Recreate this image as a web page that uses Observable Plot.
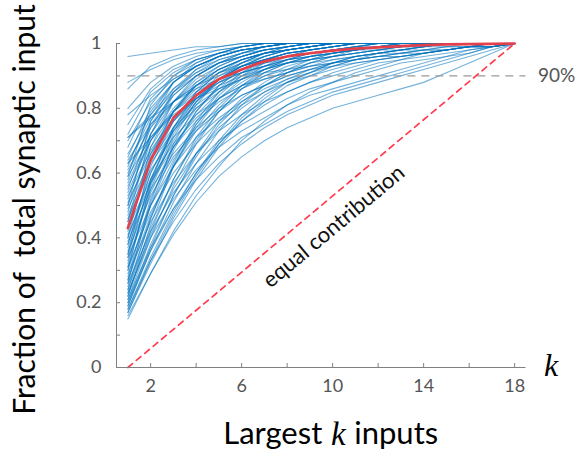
<!DOCTYPE html>
<html>
<head>
<meta charset="utf-8">
<script src="https://cdn.jsdelivr.net/npm/d3@7"></script>
<script src="https://cdn.jsdelivr.net/npm/@observablehq/plot@0.6"></script>
<style>
  html, body { margin: 0; padding: 0; background: #fff; }
  #chart svg { display: block; }
</style>
</head>
<body>
<div id="chart"></div>
<script>
// k = number of largest inputs
const kValues = [1,2,3,4,5,6,7,8,9,10,11,12,13,14,15,16,17,18];

// Individual neurons: cumulative fraction (%) of total synaptic input at k = 1..18
const highStartCurves = [
  [96,97,98,99,99,100,100,100,100,100,100,100,100,100,100,100,100,100],
  [88,92,95,97,98,99,100,100,100,100,100,100,100,100,100,100,100,100],
  [86,93,96,98,99,100,100,100,100,100,100,100,100,100,100,100,100,100],
  [80,88,93,96,98,99,100,100,100,100,100,100,100,100,100,100,100,100],
  [78,84,89,93,96,98,99,100,100,100,100,100,100,100,100,100,100,100],
  [75,86,92,95,97,98,99,100,100,100,100,100,100,100,100,100,100,100],
  [72,85,91,95,97,99,100,100,100,100,100,100,100,100,100,100,100,100],
  [70,82,89,93,96,98,99,100,100,100,100,100,100,100,100,100,100,100],
  [71,78,88,93,96,98,99,100,100,100,100,100,100,100,100,100,100,100],
  [68,83,90,94,97,99,100,100,100,100,100,100,100,100,100,100,100,100],
  [71,77,82,86,89,91,93,94,95,96,97,98,98,99,99,100,100,100],
  [66,78,86,91,94,96,98,99,100,100,100,100,100,100,100,100,100,100]
];
const midStartCurves = [
  [65,80,88,93,96,98,99,100,100,100,100,100,100,100,100,100,100,100],
  [63,77,85,90,94,96,98,99,100,100,100,100,100,100,100,100,100,100],
  [62,79,88,93,96,98,99,100,100,100,100,100,100,100,100,100,100,100],
  [60,75,84,90,94,96,98,99,100,100,100,100,100,100,100,100,100,100],
  [58,76,86,92,95,97,99,100,100,100,100,100,100,100,100,100,100,100],
  [57,72,82,88,92,95,97,98,99,100,100,100,100,100,100,100,100,100],
  [55,74,85,91,95,97,99,100,100,100,100,100,100,100,100,100,100,100],
  [54,70,80,87,92,95,97,98,99,100,100,100,100,100,100,100,100,100],
  [52,72,84,90,94,97,98,99,100,100,100,100,100,100,100,100,100,100],
  [50,68,79,86,91,94,96,98,99,100,100,100,100,100,100,100,100,100],
  [48,70,82,89,93,96,98,99,100,100,100,100,100,100,100,100,100,100],
  [59,81,90,95,97,99,100,100,100,100,100,100,100,100,100,100,100,100],
  [50,76,88,94,97,99,100,100,100,100,100,100,100,100,100,100,100,100],
  [63,71,78,83,86,89,91,92,93,94,95,96,96,97,98,99,99,100],
  [46,61,71,78,83,87,89,91,93,94,95,96,97,98,98,99,99,100],
  [47,63,73,80,85,89,92,94,96,97,98,99,100,100,100,100,100,100],
  [49,64,74,81,86,89,92,94,95,96,97,98,99,100,100,100,100,100],
  [51,66,76,83,88,91,93,95,96,97,98,99,99,100,100,100,100,100],
  [53,67,77,83,87,90,92,94,95,96,97,98,99,99,100,100,100,100],
  [56,70,79,85,89,92,94,95,96,97,98,99,99,100,100,100,100,100],
  [59,71,79,84,88,91,93,95,96,97,98,98,99,99,100,100,100,100],
  [61,74,82,87,91,93,95,96,97,98,99,99,100,100,100,100,100,100],
  [64,75,82,87,90,93,95,96,97,98,98,99,99,100,100,100,100,100]
];
const lowStartCurves = [
  [45,66,79,87,92,95,97,98,99,100,100,100,100,100,100,100,100,100],
  [44,64,76,84,89,93,95,97,98,99,100,100,100,100,100,100,100,100],
  [42,65,79,87,92,95,97,99,100,100,100,100,100,100,100,100,100,100],
  [40,60,73,82,88,92,95,97,98,99,100,100,100,100,100,100,100,100],
  [38,62,76,85,91,94,97,98,99,100,100,100,100,100,100,100,100,100],
  [37,57,70,80,86,91,94,96,97,98,99,100,100,100,100,100,100,100],
  [35,58,73,83,89,93,96,98,99,100,100,100,100,100,100,100,100,100],
  [33,54,68,78,85,90,93,95,97,98,99,100,100,100,100,100,100,100],
  [32,56,72,82,89,93,96,98,99,100,100,100,100,100,100,100,100,100],
  [30,50,64,75,83,88,92,95,97,98,99,100,100,100,100,100,100,100],
  [28,52,68,79,87,92,95,97,98,99,100,100,100,100,100,100,100,100],
  [27,47,62,73,81,87,91,94,96,97,98,99,100,100,100,100,100,100],
  [25,46,62,74,83,89,93,96,98,99,100,100,100,100,100,100,100,100],
  [24,43,58,70,79,86,90,93,95,97,98,99,100,100,100,100,100,100],
  [22,42,58,71,80,87,92,95,97,98,99,100,100,100,100,100,100,100],
  [20,38,53,65,75,82,87,91,94,96,97,98,99,100,100,100,100,100],
  [45,72,85,92,96,98,99,100,100,100,100,100,100,100,100,100,100,100],
  [40,68,82,90,94,97,99,100,100,100,100,100,100,100,100,100,100,100],
  [35,64,79,88,93,96,98,99,100,100,100,100,100,100,100,100,100,100],
  [30,57,74,85,91,95,97,99,100,100,100,100,100,100,100,100,100,100],
  [26,51,69,81,89,94,97,98,99,100,100,100,100,100,100,100,100,100],
  [22,44,62,75,84,90,94,96,98,99,100,100,100,100,100,100,100,100],
  [19,37,53,66,76,83,88,92,95,97,98,99,100,100,100,100,100,100],
  [17,33,47,59,69,77,83,88,91,94,96,97,98,99,100,100,100,100],
  [15,29,42,53,62,70,76,81,85,88,91,93,95,97,98,99,100,100],
  [17,32,46,58,68,76,82,87,90,93,95,97,98,99,100,100,100,100],
  [19,36,51,63,73,81,87,91,94,96,98,99,100,100,100,100,100,100],
  [21,40,56,69,79,86,91,94,96,98,99,100,100,100,100,100,100,100],
  [24,46,63,76,85,91,95,97,98,99,100,100,100,100,100,100,100,100],
  [27,50,67,79,87,92,95,97,98,99,100,100,100,100,100,100,100,100],
  [31,55,71,82,89,93,96,98,99,100,100,100,100,100,100,100,100,100],
  [34,58,74,84,90,94,97,98,99,100,100,100,100,100,100,100,100,100],
  [38,60,74,83,89,93,95,97,98,99,100,100,100,100,100,100,100,100],
  [20,36,49,60,69,76,81,85,88,91,93,95,96,97,98,99,100,100],
  [23,41,55,66,74,80,85,89,92,94,96,97,98,99,100,100,100,100],
  [18,34,48,60,70,78,84,88,91,94,96,97,98,99,100,100,100,100]
];
const slowCurves = [
  [16,29,41,51,59,65,70,74,77,80,82,84,86,88,91,94,97,100],
  [18,33,45,55,63,69,74,78,81,84,86,88,90,92,94,96,98,100],
  [21,37,49,58,65,71,75,79,82,85,87,89,91,93,95,97,99,100],
  [23,40,52,61,68,73,77,81,84,86,88,90,92,94,96,97,99,100],
  [26,42,54,63,70,75,79,83,86,88,90,92,94,95,96,98,99,100],
  [29,45,57,66,73,78,82,85,88,90,92,94,95,96,97,98,99,100],
  [31,48,60,69,76,81,85,88,90,92,94,95,96,97,98,99,100,100],
  [34,50,62,71,77,82,86,89,91,93,94,95,96,97,98,99,99,100],
  [36,53,65,73,79,84,87,90,92,94,95,96,97,98,98,99,99,100],
  [39,55,66,74,80,84,87,90,92,93,95,96,97,97,98,99,99,100],
  [41,57,68,76,82,86,89,91,93,95,96,97,97,98,99,99,100,100],
  [43,58,69,77,83,87,90,92,94,95,96,97,98,98,99,99,100,100]
];

// Average curve (red)
const meanCurve = [0.43,0.64,0.77,0.84,0.89,0.92,0.945,0.96,0.97,0.978,0.984,0.988,0.992,0.995,0.997,0.998,0.999,1];

// Equal-contribution reference line (red dashed)
const equalK = [1, 18];
const equalFraction = [0, 1];

// 90% threshold
const thresholdValue = 0.9;
const thresholdLabel = "90%";

// Ticks
const xTicks = [2,4,6,8,10,12,14,16,18];
const xLabelTicks = [2,6,10,14,18];
const yTicks = [0,0.1,0.2,0.3,0.4,0.5,0.6,0.7,0.8,0.9,1];
const yLabelTicks = [0,0.2,0.4,0.6,0.8,1];

const yTitle = "Fraction of\u00a0 total synaptic input";
const xTitleParts = ["Largest", "k", "inputs"];
const equalLabel = "equal contribution";

// ---- build tables ----
const allCurves = [...highStartCurves, ...midStartCurves, ...lowStartCurves, ...slowCurves];
const blueRows = allCurves.flatMap((vals, id) => vals.map((p, j) => ({id, k: kValues[j], v: p / 100})));
const meanRows = meanCurve.map((v, j) => ({k: kValues[j], v}));
const equalRows = equalK.map((k, j) => ({k, v: equalFraction[j]}));

const sans = "Lato, 'Open Sans', 'DejaVu Sans', sans-serif";
const serif = "'Liberation Serif', 'DejaVu Serif', serif";
const axisGray = "#808080";
const labelGray = "#555555";

const chart = Plot.plot({
  width: 578,
  height: 453,
  marginLeft: 116,
  marginRight: 52.5,
  marginTop: 43,
  marginBottom: 86,
  style: {fontFamily: sans, background: "#fff", overflow: "visible"},
  x: {domain: [0.5, 18.5]},
  y: {domain: [0, 1]},
  marks: [
    Plot.line(blueRows, {x: "k", y: "v", z: "id", stroke: "#0072BD", strokeOpacity: 0.55, strokeWidth: 1.1}),
    Plot.ruleY([thresholdValue], {x1: 1, x2: 18.5, stroke: "#9a9a9a", strokeWidth: 1.4, strokeDasharray: "8,6"}),
    Plot.line(equalRows, {x: "k", y: "v", stroke: "#FF3B4E", strokeWidth: 1.7, strokeDasharray: "6,5"}),
    Plot.line(meanRows, {x: "k", y: "v", stroke: "#E3404B", strokeWidth: 2.7}),
    Plot.ruleX([0.5], {y1: 0, y2: 1, stroke: axisGray}),
    Plot.ruleY([0], {x1: 0.5, x2: 18.5, stroke: axisGray}),
    Plot.axisX({ticks: xTicks, tickSize: -4, stroke: axisGray, tickFormat: () => "", label: null}),
    Plot.axisX({ticks: xLabelTicks, tickSize: 0, tickPadding: 12, fontSize: 18, fill: labelGray, label: null, tickFormat: d3.format("~g")}),
    Plot.axisY({ticks: yTicks, tickSize: -4, stroke: axisGray, tickFormat: () => "", label: null}),
    Plot.axisY({ticks: yLabelTicks, tickSize: 0, tickPadding: 15, fontSize: 18, fill: labelGray, label: null, tickFormat: d3.format("~g")}),
    Plot.text([thresholdLabel], {x: 18.5, y: thresholdValue, dx: 12, text: d => d, textAnchor: "start", lineAnchor: "middle", fontSize: 19, fill: labelGray}),
    Plot.text([equalLabel], {x: 10.05, y: 0.435, text: d => d, rotate: -40, textAnchor: "middle", lineAnchor: "middle", fontSize: 22, fill: "#111"}),
    Plot.text(["k"], {frameAnchor: "bottom-right", dx: 25, dy: -2, text: d => d, fontFamily: serif, fontStyle: "italic", fontSize: 32, fill: "#000", textAnchor: "middle", lineAnchor: "middle"}),
    Plot.text([yTitle], {frameAnchor: "left", rotate: -90, dx: -91, dy: 4, text: d => d, fontSize: 30, fill: "#000", textAnchor: "middle", lineAnchor: "middle"}),
    Plot.text([xTitleParts[0]], {frameAnchor: "bottom", dx: 1, dy: 67, text: d => d, fontSize: 31, fill: "#000", textAnchor: "end", lineAnchor: "middle"}),
    Plot.text([xTitleParts[1]], {frameAnchor: "bottom", dx: 17, dy: 67, text: d => d, fontFamily: serif, fontStyle: "italic", fontSize: 33, fill: "#000", textAnchor: "middle", lineAnchor: "middle"}),
    Plot.text([xTitleParts[2]], {frameAnchor: "bottom", dx: 33, dy: 67, text: d => d, fontSize: 31, fill: "#000", textAnchor: "start", lineAnchor: "middle"})
  ]
});
document.getElementById("chart").appendChild(chart);
</script>
</body>
</html>
